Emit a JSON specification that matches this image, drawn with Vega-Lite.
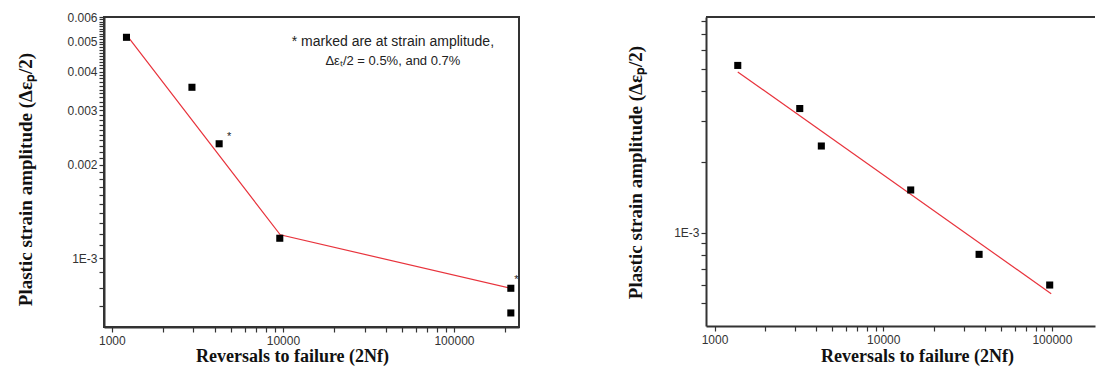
{
  "$schema": "https://vega.github.io/schema/vega-lite/v6.json",
  "background": "white",
  "padding": {"left": 15, "top": 10, "right": 0, "bottom": 0},
  "spacing": 106,
  "config": {
    "font": "Liberation Sans",
    "axis": {
      "grid": false,
      "labelFont": "Liberation Sans",
      "labelFontSize": 12,
      "labelColor": "#333",
      "titleFont": "Liberation Serif",
      "titleFontWeight": "bold",
      "titleColor": "#111",
      "domainColor": "#333",
      "domainWidth": 2,
      "tickColor": "#333",
      "tickWidth": 1.2,
      "tickSize": 5,
      "labelOverlap": false,
      "labelFlush": false,
      "labelBound": false
    }
  },
  "datasets": {
    "leftPoints": [
      {"reversals": 1218, "strain": 0.00516},
      {"reversals": 2940, "strain": 0.00356},
      {"reversals": 4240, "strain": 0.00234},
      {"reversals": 9590, "strain": 0.00116},
      {"reversals": 215000, "strain": 0.0008},
      {"reversals": 215000, "strain": 0.000666}
    ],
    "leftFit": [
      {"reversals": 1250, "strain": 0.00516},
      {"reversals": 9650, "strain": 0.00119},
      {"reversals": 215000, "strain": 0.0008}
    ],
    "leftNotes": [
      {"reversals": 43950, "strain": 0.00497, "label": "* marked are at strain amplitude,", "size": 14},
      {"reversals": 43950, "strain": 0.00432, "label": "Δεₜ/2 = 0.5%, and 0.7%", "size": 13},
      {"reversals": 4850, "strain": 0.002454, "label": "*", "size": 11},
      {"reversals": 232000, "strain": 0.000849, "label": "*", "size": 11}
    ],
    "rightPoints": [
      {"reversals": 1373, "strain": 0.00516},
      {"reversals": 3200, "strain": 0.00338},
      {"reversals": 4296, "strain": 0.00234},
      {"reversals": 14550, "strain": 0.00152},
      {"reversals": 37000, "strain": 0.000808},
      {"reversals": 97000, "strain": 0.000598}
    ],
    "rightFit": [
      {"reversals": 1373, "strain": 0.00484},
      {"reversals": 99000, "strain": 0.000549}
    ],
    "rightFrame": [
      {"strain": 0.0083}
    ]
  },
  "hconcat": [
    {
      "width": 415,
      "height": 310,
      "view": {"stroke": "#333", "strokeWidth": 2},
      "encoding": {
        "x": {
          "field": "reversals",
          "type": "quantitative",
          "scale": {"type": "log", "domain": [900, 240000], "nice": false},
          "axis": {
            "values": [1000, 2000, 3000, 4000, 5000, 6000, 7000, 8000, 9000, 10000, 20000, 30000, 40000, 50000, 60000, 70000, 80000, 90000, 100000, 200000],
            "labelExpr": "indexof([1000,10000,100000], datum.value) >= 0 ? format(datum.value, 'd') : ''",
            "labelPadding": 3,
            "title": "Reversals to failure (2Nf)",
            "titleFontSize": 18,
            "titleX": 188,
            "titlePadding": 1
          }
        },
        "y": {
          "field": "strain",
          "type": "quantitative",
          "scale": {"type": "log", "domain": [0.0006, 0.006], "nice": false, "zero": false},
          "axis": {
            "values": [0.0007, 0.0008, 0.0009, 0.001, 0.0011, 0.0012, 0.0013, 0.0014, 0.0015, 0.0016, 0.0017, 0.0018, 0.0019, 0.002, 0.0021, 0.0022, 0.0023, 0.0024, 0.0025, 0.0026, 0.0027, 0.0028, 0.0029, 0.003, 0.0031, 0.0032, 0.0033, 0.0034, 0.0035, 0.0036, 0.0037, 0.0038, 0.0039, 0.004, 0.0041, 0.0042, 0.0043, 0.0044, 0.0045, 0.0046, 0.0047, 0.0048, 0.0049, 0.005, 0.0051, 0.0052, 0.0053, 0.0054, 0.0055, 0.0056, 0.0057, 0.0058, 0.0059, 0.006],
            "labelExpr": "abs(datum.value - 0.001) < 1e-9 ? '1E-3' : (abs(datum.value * 1000 - round(datum.value * 1000)) < 1e-6 ? format(datum.value, '.3f') : '')",
            "labelPadding": 2,
            "title": "Plastic strain amplitude (Δεₚ/2)",
            "titleFontSize": 19,
            "titleY": 162,
            "titlePadding": 31
          }
        }
      },
      "layer": [
        {
          "data": {"name": "leftFit"},
          "mark": {"type": "line", "color": "#e8333c", "strokeWidth": 1.2}
        },
        {
          "data": {"name": "leftPoints"},
          "mark": {"type": "point", "shape": "square", "filled": true, "color": "#000", "opacity": 1, "size": 50}
        },
        {
          "data": {"name": "leftNotes"},
          "mark": {"type": "text", "font": "Liberation Sans", "color": "#222", "baseline": "middle", "align": "center"},
          "encoding": {
            "text": {"field": "label", "type": "nominal"},
            "size": {"field": "size", "type": "quantitative", "scale": null, "legend": null}
          }
        }
      ]
    },
    {
      "width": 389,
      "height": 309,
      "view": {"stroke": null},
      "encoding": {
        "x": {
          "field": "reversals",
          "type": "quantitative",
          "scale": {"type": "log", "domain": [890, 180000], "nice": false},
          "axis": {
            "values": [1000, 2000, 3000, 4000, 5000, 6000, 7000, 8000, 9000, 10000, 20000, 30000, 40000, 50000, 60000, 70000, 80000, 90000, 100000],
            "labelExpr": "indexof([1000,10000,100000], datum.value) >= 0 ? format(datum.value, 'd') : ''",
            "labelPadding": 3,
            "title": "Reversals to failure (2Nf)",
            "titleFontSize": 18,
            "titleX": 211,
            "titlePadding": 2
          }
        },
        "y": {
          "field": "strain",
          "type": "quantitative",
          "scale": {"type": "log", "domain": [0.0004, 0.0083], "nice": false, "zero": false},
          "axis": {
            "values": [0.0005, 0.0006, 0.0007, 0.0008, 0.0009, 0.001, 0.002, 0.003, 0.004, 0.005, 0.006, 0.007, 0.008],
            "labelExpr": "abs(datum.value - 0.001) < 1e-9 ? '1E-3' : ''",
            "labelPadding": 2,
            "title": "Plastic strain amplitude (Δεₚ/2)",
            "titleFontSize": 19,
            "titleY": 155,
            "titlePadding": 28
          }
        }
      },
      "layer": [
        {
          "data": {"name": "rightFrame"},
          "mark": {"type": "rule", "color": "#333", "strokeWidth": 2},
          "encoding": {"x": null}
        },
        {
          "data": {"name": "rightFit"},
          "mark": {"type": "line", "color": "#e8333c", "strokeWidth": 1.2}
        },
        {
          "data": {"name": "rightPoints"},
          "mark": {"type": "point", "shape": "square", "filled": true, "color": "#000", "opacity": 1, "size": 50}
        }
      ]
    }
  ]
}
